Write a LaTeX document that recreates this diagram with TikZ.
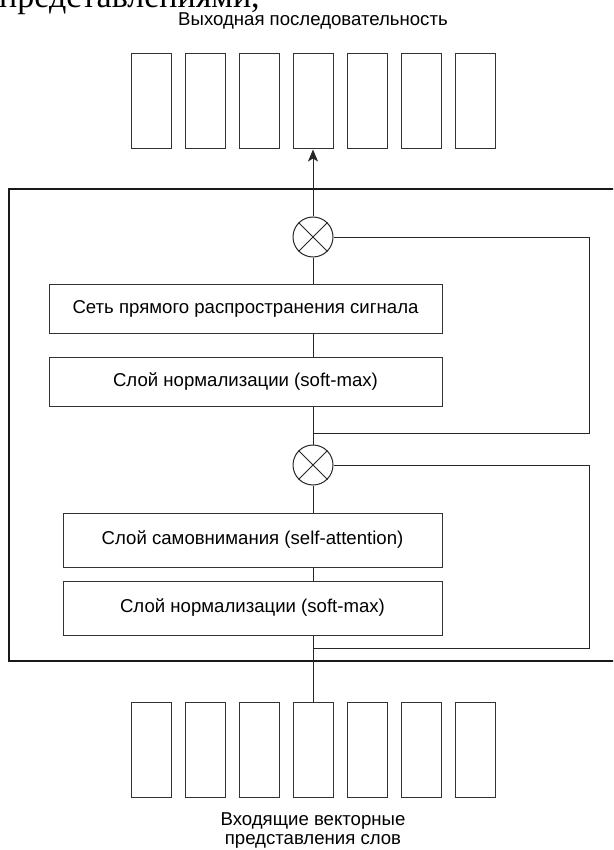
\documentclass[tikz,border=0pt]{standalone}
\usepackage{fontspec}
\setmainfont{Liberation Sans}
\newfontfamily\cutserif{Liberation Serif}
\usetikzlibrary{arrows.meta,positioning}

\begin{document}
\begin{tikzpicture}[x=1pt, y=-1pt, font=\fontsize{18.6}{19}\selectfont]
    % --- Стили ---
    \tikzset{
        token/.style={draw=black!80, line width=1pt, minimum width=40pt, minimum height=95pt, inner sep=0pt},
        layer/.style={draw=black!80, line width=1pt, inner sep=0pt, align=center},
        sumnode/.style={draw=black!85, circle, line width=1pt, minimum size=40pt, inner sep=0pt},
        link/.style={draw=black!85, line width=1pt},
        frame/.style={draw=black!90, line width=1.3pt}
    }

    % --- Рамка картинки ---
    \useasboundingbox (0,0) rectangle (613,850);
    \clip (0,0) rectangle (613,850);

    % обрезанная строка текста сверху
    \node[font=\cutserif\fontsize{34}{34}\selectfont, anchor=base west, inner sep=0pt] (cuttext) at (-1,8) {представлениями,};

    % --- Выходная последовательность ---
    \node (outlabel) at (313,21) {Выходная последовательность};
    \foreach \i in {1,...,7} {
        \node[token] (out\i) at ({151+54*(\i-1)},101.5) {};
    }

    % --- Блок кодировщика ---
    \draw[frame] (9,189) rectangle (640,661);

    \node[sumnode] (add1) at (313,237) {};
    \draw[link] (add1.north west) -- (add1.south east) (add1.north east) -- (add1.south west);
    \node[layer, minimum width=393pt, minimum height=49pt] (ffn) at (245.5,308.5) {Сеть прямого распространения сигнала};
    \node[layer, minimum width=393pt, minimum height=49pt] (norm1) at (245.5,381.5) {Слой нормализации (soft-max)};

    \node[sumnode] (add2) at (313,465) {};
    \draw[link] (add2.north west) -- (add2.south east) (add2.north east) -- (add2.south west);
    \node[layer, minimum width=379pt, minimum height=54pt] (attn) at (252.5,540) {Слой самовнимания (self-attention)};
    \node[layer, minimum width=379pt, minimum height=54pt] (norm2) at (252.5,608) {Слой нормализации (soft-max)};

    \coordinate (skip1) at (313,433);
    \coordinate (skip2) at (313,648);

    % --- Входные векторы ---
    \foreach \i in {1,...,7} {
        \node[token] (in\i) at ({151+54*(\i-1)},749.5) {};
    }
    \node[align=center] (inlabel) at (313,831) {Входящие векторные\\представления слов};

    % --- Связи ---
    \draw[link, -{Stealth[length=12pt, width=10pt, inset=3pt]}] (add1) -- (out4);
    \draw[link] (add1) -- (add1 |- ffn.north);
    \draw[link] (add1 |- ffn.south) -- (add1 |- norm1.north);
    \draw[link] (add2 |- norm1.south) -- (add2);
    \draw[link] (add2) -- (add2 |- attn.north);
    \draw[link] (add2 |- attn.south) -- (add2 |- norm2.north);
    \draw[link] (in4) -- (in4 |- norm2.south);

    % обходные соединения
    \draw[link] (skip1) -- ++(276,0) |- (add1.east);
    \draw[link] (skip2) -- ++(276,0) |- (add2.east);
\end{tikzpicture}
\end{document}
